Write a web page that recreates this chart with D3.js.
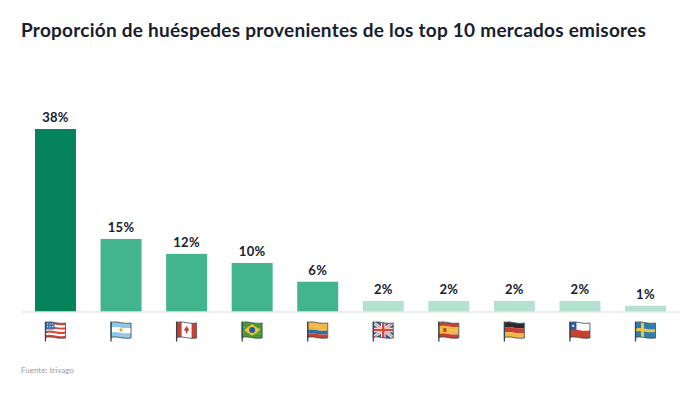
<!DOCTYPE html>
<html>
<head>
<meta charset="utf-8">
<script src="https://cdnjs.cloudflare.com/ajax/libs/d3/7.8.5/d3.min.js"></script>
<style>
  html, body { margin: 0; padding: 0; background: #fff; }
  text { font-family: Lato, "Noto Sans", sans-serif; }
</style>
</head>
<body>
<div id="chart"></div>
<script>
const countries = ["US", "AR", "CA", "BR", "CO", "GB", "ES", "DE", "CL", "SE"];
const shares = [38, 15.1, 12, 10.1, 6.2, 2.2, 2.2, 2.2, 2.2, 1.2];
const tiers = ["high", "mid", "mid", "mid", "mid", "low", "low", "low", "low", "low"];
const titleText = "Proporción de huéspedes provenientes de los top 10 mercados emisores";
const sourceText = "Fuente: trivago";

const tierColor = { high: "#05835b", mid: "#42b58e", low: "#b3e2d0" };

const width = 700, height = 394;
const margin = { top: 129, right: 34, bottom: 82, left: 35 };
const plotW = width - margin.left - margin.right;
const plotH = height - margin.top - margin.bottom - 0.5;

const svg = d3.select("#chart").append("svg")
  .attr("width", width)
  .attr("height", height)
  .style("display", "block");

svg.append("text")
  .attr("x", 21)
  .attr("y", 37)
  .attr("fill", "#17202b")
  .style("font-size", "19px")
  .style("letter-spacing", "0.24px")
  .style("font-weight", "700")
  .text(titleText);

const chart = svg.append("g")
  .attr("transform", `translate(${margin.left},${margin.top})`);

const x = d3.scaleBand().domain(countries).range([0, plotW]).paddingInner(0.375).paddingOuter(0);
const y = d3.scaleLinear().domain([0, 38]).range([plotH, 0]);

chart.selectAll(".bar")
  .data(countries)
  .enter()
  .append("rect")
  .attr("class", "bar")
  .attr("x", d => x(d))
  .attr("width", x.bandwidth())
  .attr("y", (d, i) => y(shares[i]))
  .attr("height", (d, i) => plotH - y(shares[i]))
  .attr("fill", (d, i) => tierColor[tiers[i]]);

chart.selectAll(".value")
  .data(countries)
  .enter()
  .append("text")
  .attr("class", "value")
  .attr("x", d => x(d) + x.bandwidth() / 2)
  .attr("y", (d, i) => y(shares[i]) - 7)
  .attr("text-anchor", "middle")
  .attr("fill", "#17202b")
  .style("font-size", "13px")
  .style("letter-spacing", "0.3px")
  .style("font-weight", "700")
  .text((d, i) => `${Math.round(shares[i])}%`);

// eje base
chart.append("line")
  .attr("x1", -13)
  .attr("x2", plotW + 14)
  .attr("y1", plotH + 0.5)
  .attr("y2", plotH + 0.5)
  .attr("stroke", "#dcdcdc")
  .attr("stroke-width", 1.2);

// banderas: franjas onduladas dentro de una caja de 20x15
const W = 20, H = 15;
const band = (y0, y1) => `M0,${y0} C6,${y0 - 2} 12,${y0 + 2} ${W},${y0 + 0.5} L${W},${y1 + 0.5} C12,${y1 + 2} 6,${y1 - 2} 0,${y1} Z`;

const horizontal = {
  AR: ["#8ecae6", "#ffffff", "#8ecae6"],
  BR: ["#4d9a2a", "#4d9a2a", "#4d9a2a"],
  CO: ["#f5b642", "#f5b642", "#2a6fa8", "#c8402f"],
  ES: ["#c8402f", "#f5b642", "#f5b642", "#c8402f"],
  DE: ["#2b2b2b", "#c8402f", "#f5b642"],
  SE: ["#2a7fb0"],
  GB: ["#2f5f92"],
  CL: ["#ffffff", "#c8402f"],
  CA: ["#ffffff"],
  US: ["#d9473c", "#ffffff", "#d9473c", "#ffffff", "#d9473c", "#ffffff", "#d9473c"]
};

const defs = svg.append("defs");
defs.append("clipPath").attr("id", "flag-clip").append("path").attr("d", band(0, H));

const flags = chart.selectAll(".flag")
  .data(countries)
  .enter()
  .append("g")
  .attr("class", "flag")
  .attr("transform", d => `translate(${x(d) + x.bandwidth() / 2 - W / 2},${plotH + 11})`);

flags.each(function (code) {
  const g = d3.select(this);
  const art = g.append("g").attr("clip-path", "url(#flag-clip)");
  const rows = horizontal[code];
  rows.forEach((c, i) => {
    art.append("path")
      .attr("d", band(i * H / rows.length, (i + 1) * H / rows.length))
      .attr("fill", c);
  });
  if (code === "US") {
    art.append("rect").attr("width", 9).attr("height", 8).attr("y", -1).attr("fill", "#3f6fb0");
    art.selectAll(".star").data(d3.range(6)).enter().append("circle")
      .attr("cx", i => 2 + (i % 3) * 2.6)
      .attr("cy", i => 1.5 + Math.floor(i / 3) * 2.6)
      .attr("r", 0.6)
      .attr("fill", "#fff");
  }
  if (code === "AR") art.append("circle").attr("cx", 10).attr("cy", 7.5).attr("r", 1.7).attr("fill", "#f5a623");
  if (code === "CA") {
    art.append("rect").attr("width", 5).attr("y", -2).attr("height", H + 4).attr("fill", "#c8402f");
    art.append("rect").attr("x", 15).attr("width", 5).attr("y", -2).attr("height", H + 4).attr("fill", "#c8402f");
    art.append("path").attr("d", "M10,3.5 L12.6,7.5 L11,8.5 L10.5,11 L9.5,11 L9,8.5 L7.4,7.5 Z").attr("fill", "#c8402f");
  }
  if (code === "BR") {
    art.append("path").attr("d", "M10,1.8 L18,7.5 L10,13.2 L2,7.5 Z").attr("fill", "#f2c53d");
    art.append("circle").attr("cx", 10).attr("cy", 7.5).attr("r", 3).attr("fill", "#1f5c99");
  }
  if (code === "ES") art.append("rect").attr("x", 4.5).attr("y", 5.5).attr("width", 3).attr("height", 4).attr("fill", "#c8402f");
  if (code === "CL") {
    art.append("rect").attr("y", -2).attr("width", 6.5).attr("height", 9.5).attr("fill", "#2a5da8");
    art.append("circle").attr("cx", 3.2).attr("cy", 3.4).attr("r", 1.1).attr("fill", "#fff");
  }
  if (code === "SE") {
    art.append("rect").attr("x", 5.5).attr("y", -2).attr("width", 3).attr("height", H + 4).attr("fill", "#f2c53d");
    art.append("path").attr("d", band(6, 9)).attr("fill", "#f2c53d");
  }
  if (code === "GB") {
    art.append("path").attr("d", `M0,0 L${W},${H} M${W},0 L0,${H}`).attr("stroke", "#fff").attr("stroke-width", 3);
    art.append("path").attr("d", `M0,0 L${W},${H} M${W},0 L0,${H}`).attr("stroke", "#d9473c").attr("stroke-width", 1);
    art.append("path").attr("d", `M10,-2 V${H + 2} M0,7.5 H${W}`).attr("stroke", "#fff").attr("stroke-width", 4.5);
    art.append("path").attr("d", `M10,-2 V${H + 2} M0,7.5 H${W}`).attr("stroke", "#d9473c").attr("stroke-width", 2.5);
  }
  // contorno y asta
  g.append("path").attr("d", band(0, H)).attr("fill", "none").attr("stroke", "#33444f").attr("stroke-width", 0.8);
  g.append("line").attr("x1", 0).attr("x2", 0).attr("y1", -1).attr("y2", 19)
    .attr("stroke", "#33444f").attr("stroke-width", 1.3);
});

svg.append("text")
  .attr("x", 21)
  .attr("y", 373)
  .attr("fill", "#9a9a9a")
  .style("font-size", "8px")
  .text(sourceText);
</script>
</body>
</html>
